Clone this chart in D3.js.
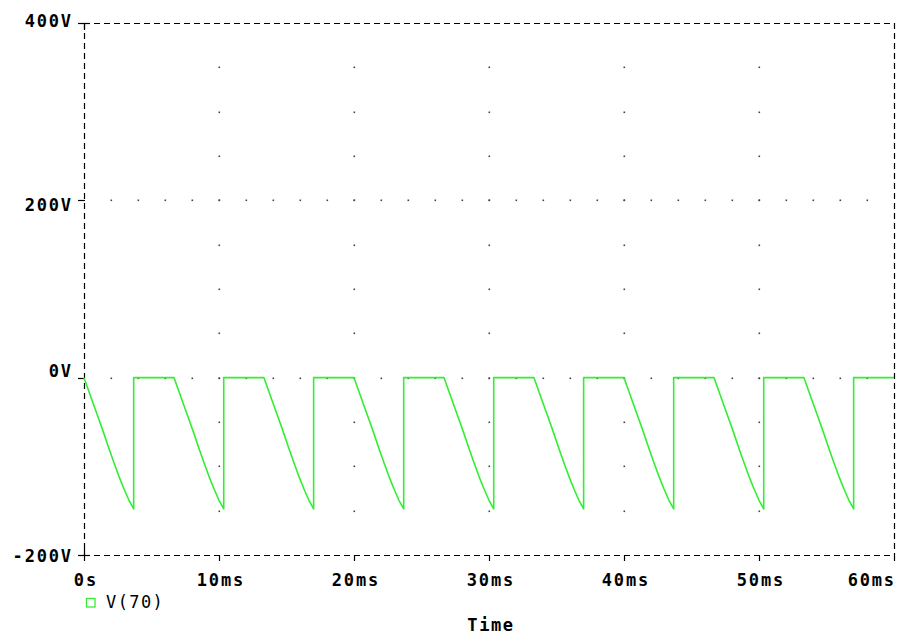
<!DOCTYPE html>
<html>
<head>
<meta charset="utf-8">
<script src="https://cdn.jsdelivr.net/npm/d3@7"></script>
<style>
  html, body { margin: 0; padding: 0; background: #fff; }
  svg { display: block; }
  text { font-family: "DejaVu Sans Mono", "Liberation Mono", monospace; fill: #000; }
</style>
</head>
<body>
<svg id="chart" width="897" height="637"></svg>
<script>
// ---- data ----
const xTicks = [0, 10, 20, 30, 40, 50, 60];            // ms
const xTickLabels = ["0s", "10ms", "20ms", "30ms", "40ms", "50ms", "60ms"];
const yTicks = [400, 200, 0, -200];                    // V
const yTickLabels = ["400V", "200V", "0V", "-200V"];
const seriesName = "V(70)";
const axisTitle = "Time";
// time (ms) and voltage (V) of the trace V(70)
const timeMs = [
  0.00, 0.35, 0.70, 1.08, 1.45, 1.83, 2.20, 2.58, 2.95, 3.32, 3.68, 3.68,
  6.67, 7.02, 7.37, 7.75, 8.12, 8.50, 8.87, 9.25, 9.62, 9.99, 10.35, 10.35,
  13.33, 13.68, 14.03, 14.41, 14.78, 15.16, 15.53, 15.91, 16.28, 16.65, 17.01, 17.01,
  20.00, 20.35, 20.70, 21.08, 21.45, 21.83, 22.20, 22.58, 22.95, 23.32, 23.68, 23.68,
  26.67, 27.02, 27.37, 27.75, 28.12, 28.50, 28.87, 29.25, 29.62, 29.99, 30.35, 30.35,
  33.33, 33.68, 34.03, 34.41, 34.78, 35.16, 35.53, 35.91, 36.28, 36.65, 37.01, 37.01,
  40.00, 40.35, 40.70, 41.08, 41.45, 41.83, 42.20, 42.58, 42.95, 43.32, 43.68, 43.68,
  46.67, 47.02, 47.37, 47.75, 48.12, 48.50, 48.87, 49.25, 49.62, 49.99, 50.35, 50.35,
  53.33, 53.68, 54.03, 54.41, 54.78, 55.16, 55.53, 55.91, 56.28, 56.65, 57.01, 57.01,
  60.00
];
const volts = [
  0, -15, -30, -46, -62, -79, -95, -111, -125, -138, -148, 0,
  0, -15, -30, -46, -62, -79, -95, -111, -125, -138, -148, 0,
  0, -15, -30, -46, -62, -79, -95, -111, -125, -138, -148, 0,
  0, -15, -30, -46, -62, -79, -95, -111, -125, -138, -148, 0,
  0, -15, -30, -46, -62, -79, -95, -111, -125, -138, -148, 0,
  0, -15, -30, -46, -62, -79, -95, -111, -125, -138, -148, 0,
  0, -15, -30, -46, -62, -79, -95, -111, -125, -138, -148, 0,
  0, -15, -30, -46, -62, -79, -95, -111, -125, -138, -148, 0,
  0, -15, -30, -46, -62, -79, -95, -111, -125, -138, -148, 0,
  0
];
const gridX = [10, 20, 30, 40, 50];     // vertical dotted grid lines (ms)
const gridY = [200, 0];                 // horizontal dotted grid lines (V)

// ---- layout ----
const svg = d3.select("#chart");
const L = 84, R = 894, T = 23, B = 555;
const x = d3.scaleLinear().domain([0, 60]).range([L, R]);
const y = d3.scaleLinear().domain([-200, 400]).range([B, T]);
const green = "#33ee33";

// dotted grid
const g = svg.append("g");
gridX.forEach(t => {
  d3.range(-150, 400, 50).forEach(v => {
    g.append("rect").attr("x", Math.round(x(t)) - 0.5).attr("y", Math.round(y(v)) - 0.5)
      .attr("width", 1.6).attr("height", 1.6).attr("fill", "#444");
  });
});
gridY.forEach(v => {
  d3.range(2, 60, 2).forEach(t => {
    g.append("rect").attr("x", Math.round(x(t)) - 0.5).attr("y", Math.round(y(v)) - 0.5)
      .attr("width", 1.6).attr("height", 1.6).attr("fill", "#444");
  });
});

// dashed frame
const frame = svg.append("g").attr("stroke", "#000").attr("stroke-width", 1.2)
  .attr("stroke-dasharray", "6,4").attr("fill", "none");
frame.append("line").attr("x1", L).attr("x2", R).attr("y1", T + 0.5).attr("y2", T + 0.5);
frame.append("line").attr("x1", L).attr("x2", R).attr("y1", B + 0.5).attr("y2", B + 0.5);
frame.append("line").attr("x1", L + 0.5).attr("x2", L + 0.5).attr("y1", T).attr("y2", B);
frame.append("line").attr("x1", R + 0.5).attr("x2", R + 0.5).attr("y1", T).attr("y2", B);

// ticks
const ticks = svg.append("g").attr("stroke", "#000").attr("stroke-width", 1.2);
yTicks.forEach(v => {
  ticks.append("line").attr("x1", L - 6).attr("x2", L + 1).attr("y1", Math.round(y(v)) + 0.5).attr("y2", Math.round(y(v)) + 0.5);
});
xTicks.forEach(t => {
  ticks.append("line").attr("x1", Math.round(x(t)) + 0.5).attr("x2", Math.round(x(t)) + 0.5).attr("y1", B).attr("y2", B + 6);
});
ticks.append("line").attr("x1", L + 0.5).attr("x2", L + 0.5).attr("y1", T).attr("y2", T + 7);
ticks.append("line").attr("x1", L).attr("x2", L + 6).attr("y1", T + 0.5).attr("y2", T + 0.5);
ticks.append("line").attr("x1", L + 0.5).attr("x2", L + 0.5).attr("y1", B - 6).attr("y2", B);
ticks.append("line").attr("x1", L).attr("x2", L + 6).attr("y1", B + 0.5).attr("y2", B + 0.5);

// trace
const line = d3.line().x(d => x(d[0])).y(d => y(d[1]));
const pts = timeMs.map((t, i) => [t, volts[i]]);
svg.append("path").attr("d", line(pts)).attr("fill", "none")
  .attr("stroke", green).attr("stroke-width", 1.6).attr("stroke-linejoin", "round");

// y tick labels
const yDy = {"400": -2, "200": 5, "0": -7, "-200": 1};
const ls = 1.8;
const fs = 17;
yTicks.forEach((v, i) => {
  svg.append("text").text(yTickLabels[i])
    .attr("x", 71 + ls).attr("y", y(v) + yDy[String(v)])
    .attr("text-anchor", "end").attr("dominant-baseline", "central")
    .attr("font-size", fs).attr("font-weight", "bold").attr("letter-spacing", ls);
});

// x tick labels
xTicks.forEach((t, i) => {
  const last = i === xTicks.length - 1;
  svg.append("text").text(xTickLabels[i])
    .attr("x", last ? 894 + ls : x(t) + ls / 2 + 1).attr("y", 580)
    .attr("text-anchor", last ? "end" : "middle").attr("dominant-baseline", "central")
    .attr("font-size", fs).attr("font-weight", "bold").attr("letter-spacing", ls);
});

// legend
svg.append("rect").attr("x", 86.5).attr("y", 598.5).attr("width", 8.5).attr("height", 8.5)
  .attr("fill", "none").attr("stroke", green).attr("stroke-width", 1.3);
svg.append("text").text(seriesName).attr("x", 106).attr("y", 602)
  .attr("dominant-baseline", "central").attr("font-size", fs).attr("letter-spacing", 1.4);

// axis title
svg.append("text").text(axisTitle).attr("x", 490 + 1).attr("y", 625)
  .attr("text-anchor", "middle").attr("dominant-baseline", "central")
  .attr("font-size", fs).attr("font-weight", "bold").attr("letter-spacing", 1.6);
</script>
</body>
</html>
